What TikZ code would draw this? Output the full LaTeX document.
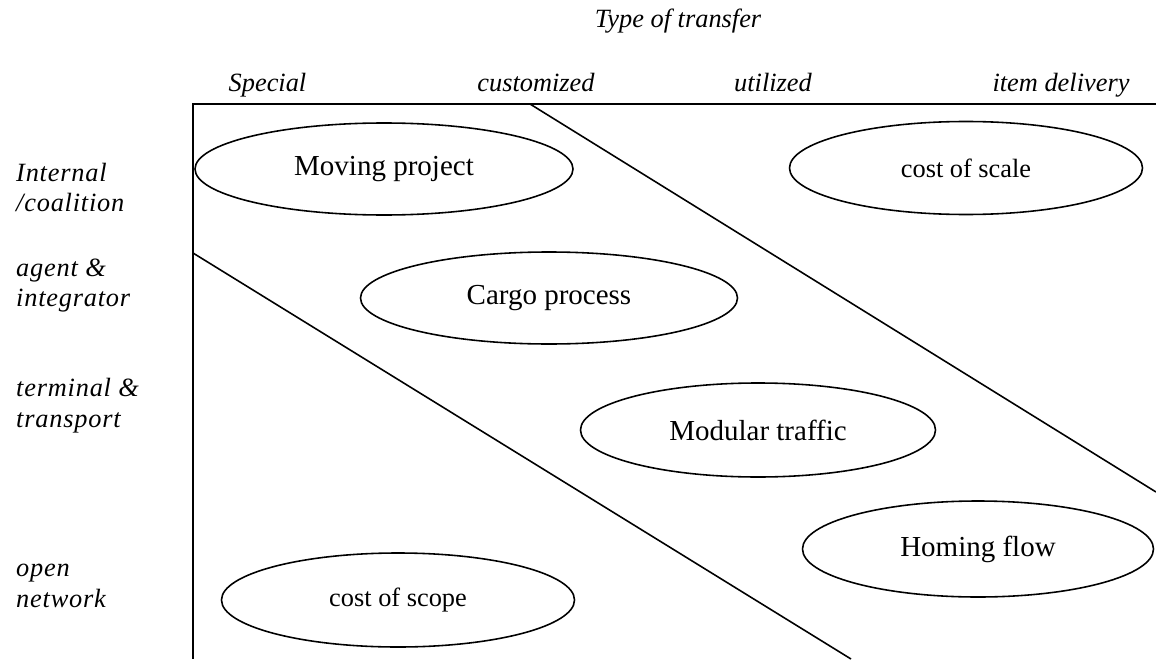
\documentclass[tikz,border=0pt]{standalone}
\usepackage{fontspec}
\setmainfont{Liberation Serif}
\newfontfamily\sidefont[LetterSpace=3]{Liberation Serif}
\usepackage{tikz}
\usetikzlibrary{shapes.geometric}
\tikzset{field/.style={draw, ellipse, inner sep=0pt, line width=0.9pt,
  font=\fontsize{16.5}{18}\selectfont},
 costfield/.style={field, font=\fontsize{15}{17}\selectfont},
 transfer/.style={font=\fontsize{15}{17}\selectfont\itshape, anchor=base},
 actor/.style={font=\sidefont\fontsize{15}{17.5}\selectfont\itshape,
  align=left, anchor=west},
 }

\begin{document}
\begin{tikzpicture}
        \useasboundingbox (0, 0) rectangle (23.12, 13.18);
        % frame and the two diagonals
        \draw[line width=1pt] (23.12, 11.10) -- (3.86, 11.10) -- (3.86, 0);
        \draw[line width=0.9pt] (10.60, 11.10) -- (23.12, 3.34);
        \draw[line width=0.9pt] (3.86, 8.12) -- (17.02, 0);
        % type of transfer
        \node[transfer] (title) at (13.56, 12.62) {Type of transfer};
        \node[transfer] (special) at (5.35, 11.34) {Special};
        \node[transfer] (custom) at (10.72, 11.34) {customized};
        \node[transfer] (util) at (15.46, 11.34) {utilized};
        \node[transfer] (item) at (21.22, 11.34) {item delivery};
        % actors
        \node[actor] (internal) at (0.20, 9.43) {Internal\\/coalition};
        \node[actor] (agent) at (0.20, 7.47) {agent \&\\integrator};
        \node[actor] (terminal) at (0.20, 5.06) {terminal \&\\transport};
        \node[actor] (open) at (0.20, 1.46) {open\\network};
        % fields
        \node[field, minimum width=7.56cm, minimum height=1.84cm] (moving) at (7.68, 9.80) {Moving project};
        \node[costfield, minimum width=7.06cm, minimum height=1.86cm] (scale) at (19.32, 9.82) {cost of scale};
        \node[field, minimum width=7.54cm, minimum height=1.84cm] (cargo) at (10.98, 7.22) {Cargo process};
        \node[field, minimum width=7.10cm, minimum height=1.88cm] (modular) at (15.16, 4.58) {Modular traffic};
        \node[field, minimum width=7.02cm, minimum height=1.92cm] (homing) at (19.56, 2.20) {Homing flow};
        \node[costfield, minimum width=7.06cm, minimum height=1.88cm] (scope) at (7.96, 1.18) {cost of scope};
    \end{tikzpicture}
\end{document}
